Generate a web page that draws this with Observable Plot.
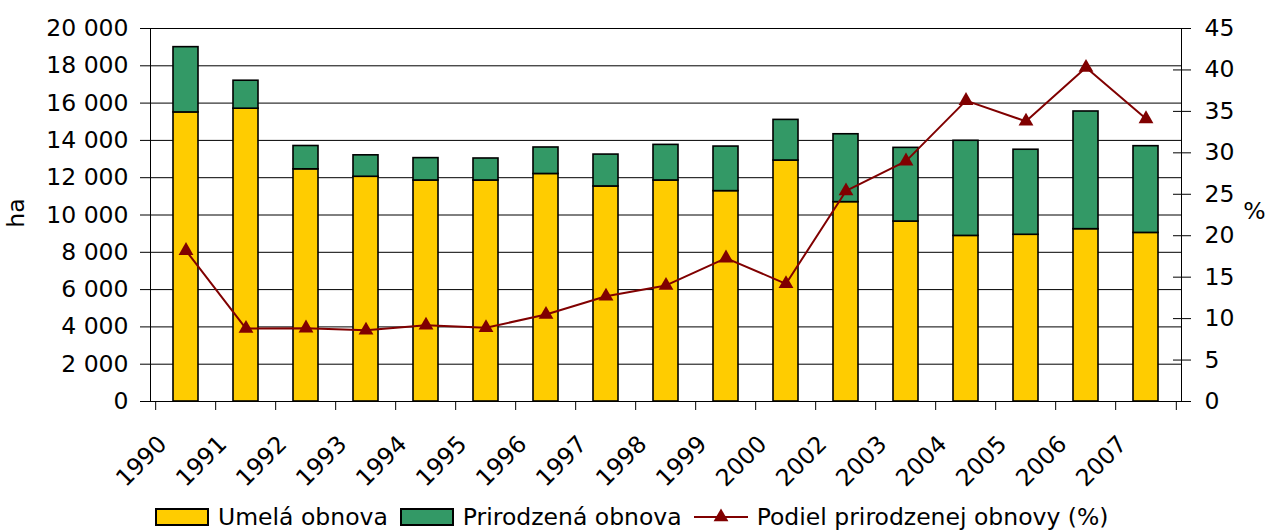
<!DOCTYPE html>
<html>
<head>
<meta charset="utf-8">
<script src="https://cdn.jsdelivr.net/npm/d3@7"></script>
<script src="https://cdn.jsdelivr.net/npm/@observablehq/plot@0.6"></script>
<style>
  html, body { margin: 0; padding: 0; background: #fff; }
  #wrap { position: relative; width: 1266px; height: 531px; overflow: hidden; font-family: "DejaVu Sans", sans-serif; }
  #legend { position: absolute; left: 155px; top: 500px; height: 34px; display: flex; align-items: center; font-size: 23.5px; color: #000; white-space: nowrap; }
  #legend .item { display: flex; align-items: center; }
  #legend svg { display: block; }
  #legend .lbl { margin-left: 9px; margin-right: 12px; }
</style>
</head>
<body>
<div id="wrap">
  <div id="chart"></div>
  <div id="legend"></div>
</div>
<script>
// ---- data ----
const years = ["1990","1991","1992","1993","1994","1995","1996","1997","1998","1999","2000","2002","2003","2004","2005","2006","2007"];
const umela = [15500,15700,12450,12050,11850,11850,12200,11530,11850,11280,12920,10690,9650,8880,8940,9240,9040];
const prirodzena = [3500,1500,1250,1150,1200,1180,1420,1710,1910,2390,2180,3640,3950,5100,4560,6310,4650];
const podiel = [18.2,8.8,8.85,8.6,9.2,8.9,10.5,12.7,14.0,17.3,14.2,25.4,29.0,36.3,33.8,40.3,34.1];
const seriesNames = ["Umelá obnova", "Prirodzená obnova"];
const lineName = "Podiel prirodzenej obnovy (%)";
const haTicks = [0,2000,4000,6000,8000,10000,12000,14000,16000,18000,20000];
const pctTicks = [0,5,10,15,20,25,30,35,40,45];
const yLabelLeft = "ha";
const yLabelRight = "%";

// ---- styles ----
const colors = ["#FFCC00", "#339966"];
const lineColor = "#800000";
const fontSize = 23.5;
const haMax = 20000, pctMax = 45;
const k = haMax / pctMax;

const W = 1266, H = 500;
const mL = 150, mR = 85, mT = 28, mB = 99;
const pInner = 0.59, pOuter = pInner / 2;
const step = (W - mL - mR) / years.length;

const rows = years.flatMap((y, i) => [
  {year: y, series: seriesNames[0], value: umela[i]},
  {year: y, series: seriesNames[1], value: prirodzena[i]}
]);
const lineRows = years.map((y, i) => ({year: y, v: podiel[i] * k}));

const fmtHa = v => d3.format(",")(v).replace(/,/g, " ");

const chart = Plot.plot({
  width: W,
  height: H,
  marginLeft: mL,
  marginRight: mR,
  marginTop: mT,
  marginBottom: mB,
  style: {fontFamily: "DejaVu Sans, sans-serif", fontSize: fontSize + "px", background: "#fff", color: "#000", overflow: "visible"},
  x: {type: "band", domain: years, paddingInner: pInner, paddingOuter: pOuter, align: 0.5},
  y: {domain: [0, haMax]},
  color: {domain: seriesNames, range: colors},
  marks: [
    Plot.gridY(haTicks, {stroke: "#000", strokeOpacity: 1, strokeWidth: 1}),
    Plot.barY(rows, Plot.stackY({x: "year", y: "value", fill: "series", order: seriesNames, stroke: "#000", strokeWidth: 1.6})),
    Plot.frame({stroke: "#000", strokeWidth: 1}),
    Plot.axisY(haTicks, {anchor: "left", tickSize: 10, tickPadding: 12, tickFormat: fmtHa, fontSize: fontSize, label: null}),
    Plot.axisY(pctTicks.map(v => v * k), {anchor: "right", tickSize: 18, dx: -9, tickPadding: 14, tickFormat: v => String(Math.round(v / k)), fontSize: fontSize, label: null}),
    Plot.axisX({tickSize: 9, tickFormat: () => "", dx: -step / 2, label: null}),
    Plot.axisX([years[years.length - 1]], {tickSize: 9, tickFormat: () => "", dx: step / 2, label: null}),
    Plot.text(years, {x: d => d, text: d => d, frameAnchor: "bottom", rotate: -45, textAnchor: "end", lineAnchor: "bottom", dx: -18, dy: 44, fontSize: fontSize}),
    Plot.text([yLabelLeft], {text: d => d, frameAnchor: "left", textAnchor: "middle", lineAnchor: "middle", dx: -134, dy: -2, rotate: -90, fontSize: fontSize}),
    Plot.text([yLabelRight], {text: d => d, frameAnchor: "right", textAnchor: "middle", lineAnchor: "middle", dx: 73, dy: -3.5, fontSize: fontSize}),
    Plot.line(lineRows, {x: "year", y: "v", stroke: lineColor, strokeWidth: 2}),
    Plot.dot(lineRows, {x: "year", y: "v", symbol: "triangle", r: 5.5, fill: lineColor, stroke: "none"})
  ]
});
document.getElementById("chart").appendChild(chart);

// ---- legend ----
const legend = document.getElementById("legend");
seriesNames.forEach((name, i) => {
  const item = document.createElement("div");
  item.className = "item";
  item.innerHTML = `<svg width="54" height="18"><rect x="1" y="1" width="52" height="16" fill="${colors[i]}" stroke="#000" stroke-width="2"/></svg><span class="lbl">${name}</span>`;
  legend.appendChild(item);
});
const li = document.createElement("div");
li.className = "item";
const tri = d3.symbol(d3.symbolTriangle, Math.PI * 5.5 * 5.5)();
li.innerHTML = `<svg width="54" height="18"><line x1="0" x2="54" y1="9" y2="9" stroke="${lineColor}" stroke-width="2"/><path d="${tri}" transform="translate(27,9)" fill="${lineColor}"/></svg><span class="lbl">${lineName}</span>`;
legend.appendChild(li);
</script>
</body>
</html>
